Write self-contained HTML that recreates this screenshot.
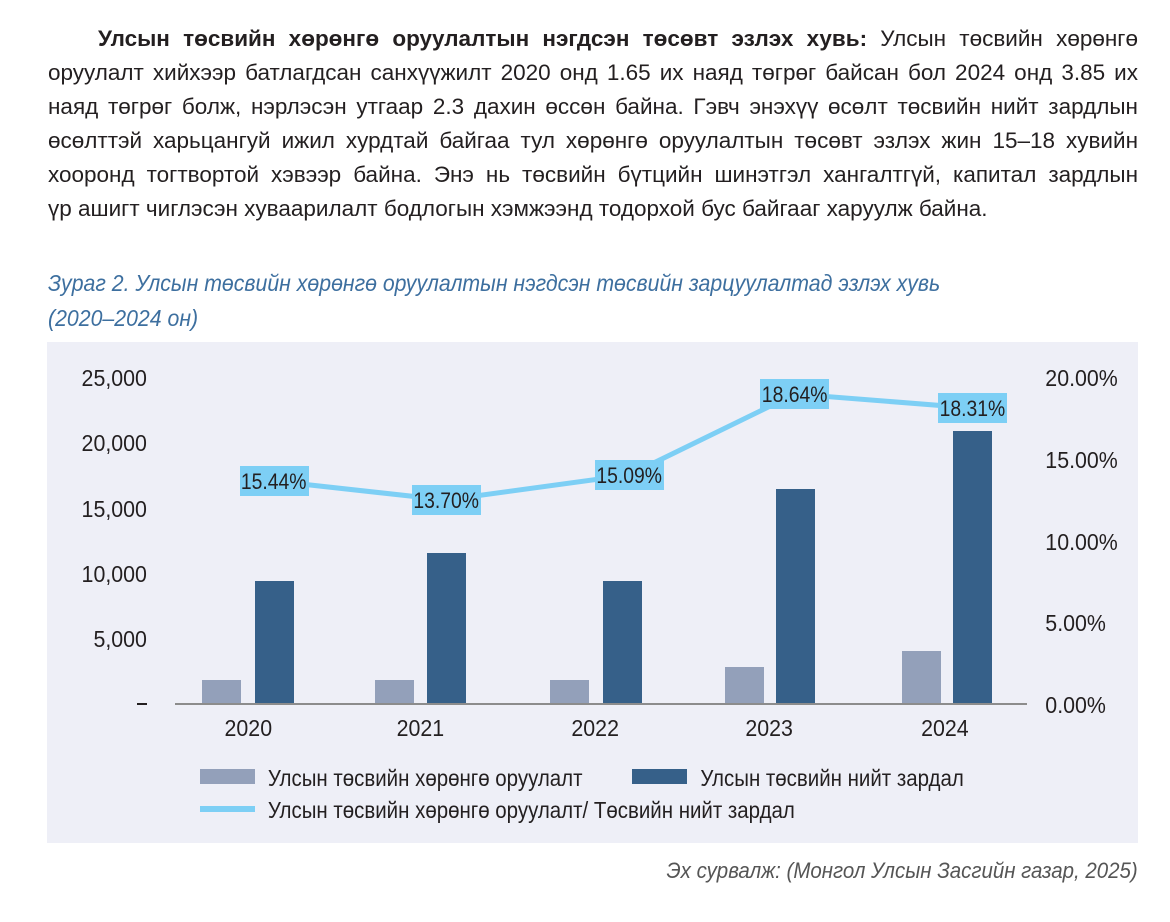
<!DOCTYPE html>
<html><head><meta charset="utf-8"><style>
html,body{margin:0;padding:0;background:#fff;width:1170px;height:922px;overflow:hidden;font-family:"Liberation Sans",sans-serif;color:#231f20}
.p{position:absolute;left:48px;top:22px;width:1090px}
.l{height:34px;line-height:34px;white-space:nowrap}
.l span{display:inline-block;width:1090px;font-size:22.5px;text-align:justify;text-align-last:justify}
.l.first span{width:1040px}
.cap{position:absolute;left:48px;font-style:italic;color:#3d6f9f;font-size:23px;white-space:nowrap;transform:scaleX(0.925);transform-origin:0 0}
.src{position:absolute;right:32px;top:858px;font-style:italic;color:#555;font-size:22px;white-space:nowrap;transform:scaleX(0.93);transform-origin:100% 0}
</style></head><body>
<div class="p">
<div class="l first" style="padding-left:50px"><span><b>Улсын төсвийн хөрөнгө оруулалтын нэгдсэн төсөвт эзлэх хувь:</b> Улсын төсвийн хөрөнгө</span></div>
<div class="l"><span>оруулалт хийхээр батлагдсан санхүүжилт 2020 онд 1.65 их наяд төгрөг байсан бол 2024 онд 3.85 их</span></div>
<div class="l"><span>наяд төгрөг болж, нэрлэсэн утгаар 2.3 дахин өссөн байна. Гэвч энэхүү өсөлт төсвийн нийт зардлын</span></div>
<div class="l"><span>өсөлттэй харьцангуй ижил хурдтай байгаа тул хөрөнгө оруулалтын төсөвт эзлэх жин 15–18 хувийн</span></div>
<div class="l"><span>хооронд тогтвортой хэвээр байна. Энэ нь төсвийн бүтцийн шинэтгэл хангалтгүй, капитал зардлын</span></div>
<div class="l"><span style="text-align-last:left">үр ашигт чиглэсэн хуваарилалт бодлогын хэмжээнд тодорхой бус байгааг харуулж байна.</span></div>
</div>
<div class="cap" style="top:270px">Зураг 2. Улсын төсвийн хөрөнгө оруулалтын нэгдсэн төсвийн зарцуулалтад эзлэх хувь</div>
<div class="cap" style="top:305px">(2020–2024 он)</div>
<svg style="position:absolute;left:0;top:0" width="1170" height="922">
<rect x="47" y="342" width="1091" height="501" fill="#eeeff7"/>
<g font-family="Liberation Sans, sans-serif" font-size="23" fill="#231f20">
<g text-anchor="end" transform="scale(0.93,1)">
<text x="158" y="386">25,000</text>
<text x="158" y="451">20,000</text>
<text x="158" y="517">15,000</text>
<text x="158" y="582">10,000</text>
<text x="158" y="647">5,000</text>
</g>
<rect x="137" y="703" width="10" height="2" fill="#231f20"/>
<g transform="scale(0.93,1)">
<text x="1124" y="386">20.00%</text>
<text x="1124" y="468">15.00%</text>
<text x="1124" y="550">10.00%</text>
<text x="1124" y="631">5.00%</text>
<text x="1124" y="713">0.00%</text>
</g>
<g fill="#93a0ba">
<rect x="202" y="680" width="39" height="24"/><rect x="375" y="680" width="39" height="24"/>
<rect x="550" y="680" width="39" height="24"/><rect x="725" y="667" width="39" height="37"/>
<rect x="902" y="651" width="39" height="53"/>
</g>
<g fill="#366089">
<rect x="255" y="581" width="39" height="123"/><rect x="427" y="553" width="39" height="151"/>
<rect x="603" y="581" width="39" height="123"/><rect x="776" y="489" width="39" height="215"/>
<rect x="953" y="431" width="39" height="273"/>
</g>
<rect x="175" y="703" width="852" height="2" fill="#8c8c8c"/>
<g text-anchor="middle" transform="scale(0.93,1)">
<text x="267" y="736">2020</text><text x="452" y="736">2021</text><text x="640" y="736">2022</text>
<text x="827" y="736">2023</text><text x="1016" y="736">2024</text>
</g>
<polyline points="274,481 446,500 629,475 795,394 972,408" fill="none" stroke="#7dcff5" stroke-width="5"/>
<g fill="#7dcff5">
<rect x="240" y="466" width="69" height="30"/><rect x="412" y="485" width="69" height="30"/>
<rect x="595" y="460" width="69" height="30"/><rect x="760" y="379" width="69" height="30"/>
<rect x="938" y="393" width="69" height="30"/>
</g>
<g text-anchor="middle" font-size="22" transform="scale(0.88,1)">
<text x="311" y="489">15.44%</text><text x="507" y="508">13.70%</text>
<text x="715" y="483">15.09%</text><text x="903" y="402">18.64%</text>
<text x="1105" y="416">18.31%</text>
</g>
<rect x="200" y="769" width="55" height="15" fill="#93a0ba"/>
<rect x="632" y="769" width="55" height="15" fill="#366089"/>
<rect x="200" y="806" width="55" height="6" fill="#7dcff5"/>
<g transform="scale(0.89,1)">
<text x="301" y="786">Улсын төсвийн хөрөнгө оруулалт</text>
<text x="787" y="786">Улсын төсвийн нийт зардал</text>
<text x="301" y="818">Улсын төсвийн хөрөнгө оруулалт/ Төсвийн нийт зардал</text>
</g>
</g>
</svg>
<div class="src">Эх сурвалж: (Монгол Улсын Засгийн газар, 2025)</div>
</body></html>
